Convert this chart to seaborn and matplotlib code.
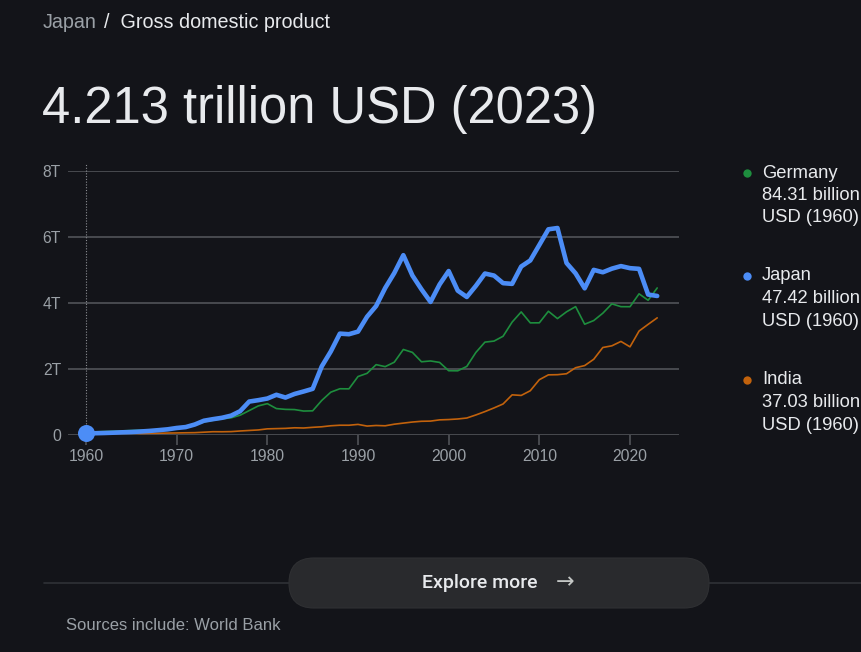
import numpy as np
import pandas as pd
import matplotlib
matplotlib.use("Agg")
import matplotlib.pyplot as plt
from matplotlib.patches import FancyBboxPatch
from matplotlib.lines import Line2D
import seaborn as sns

# ---------------- data (trillion USD) ----------------
years = list(range(1960, 2024))

japan = [0.0474, 0.0537, 0.0607, 0.0699, 0.0819, 0.0910, 0.1056, 0.1237, 0.1469, 0.1720,
         0.2126, 0.2403, 0.3183, 0.4323, 0.4799, 0.5215, 0.5867, 0.7214, 1.0133, 1.0554,
         1.1053, 1.2183, 1.1348, 1.2437, 1.3186, 1.3988, 2.0785, 2.5321, 3.0719, 3.0541,
         3.1328, 3.5843, 3.9088, 4.4549, 4.9070, 5.4492, 4.8332, 4.4147, 4.0325, 4.5621,
         4.9683, 4.3745, 4.1826, 4.5193, 4.8932, 4.8312, 4.6014, 4.5794, 5.1060, 5.2892,
         5.7591, 6.2331, 6.2722, 5.2121, 4.8965, 4.4449, 5.0037, 4.9309, 5.0408, 5.1179,
         5.0555, 5.0349, 4.2564, 4.2129]

germany = [0.0843, 0.0949, 0.1049, 0.1128, 0.1244, 0.1358, 0.1440, 0.1477, 0.1558, 0.1787,
           0.2159, 0.2493, 0.2997, 0.3986, 0.4456, 0.4905, 0.5195, 0.6000, 0.7400, 0.8814,
           0.9502, 0.8007, 0.7763, 0.7706, 0.7258, 0.7324, 1.0464, 1.2980, 1.4015, 1.3983,
           1.7716, 1.8686, 2.1319, 2.0713, 2.2058, 2.5918, 2.5039, 2.2187, 2.2437, 2.1998,
           1.9480, 1.9451, 2.0782, 2.5015, 2.8143, 2.8459, 2.9921, 3.4215, 3.7301, 3.3979,
           3.3996, 3.7496, 3.5273, 3.7331, 3.8899, 3.3570, 3.4679, 3.6903, 3.9744, 3.8889,
           3.8874, 4.2783, 4.0823, 4.4561]

india = [0.0370, 0.0392, 0.0422, 0.0484, 0.0565, 0.0590, 0.0459, 0.0500, 0.0531, 0.0584,
         0.0625, 0.0674, 0.0710, 0.0851, 0.0995, 0.0982, 0.1027, 0.1217, 0.1376, 0.1529,
         0.1862, 0.1935, 0.2008, 0.2185, 0.2120, 0.2326, 0.2489, 0.2799, 0.2962, 0.2960,
         0.3210, 0.2705, 0.2882, 0.2790, 0.3272, 0.3602, 0.3928, 0.4157, 0.4213, 0.4587,
         0.4684, 0.4854, 0.5149, 0.6075, 0.7091, 0.8203, 0.9402, 1.2167, 1.1990, 1.3412,
         1.6756, 1.8230, 1.8277, 1.8567, 2.0391, 2.1036, 2.2947, 2.6515, 2.7026, 2.8355,
         2.6718, 3.1503, 3.3532, 3.5499]

y_ticks = [0, 2, 4, 6, 8]
y_tick_labels = ["0", "2T", "4T", "6T", "8T"]
x_ticks = [1960, 1970, 1980, 1990, 2000, 2010, 2020]

legend_names = ["Germany", "Japan", "India"]
legend_values = ["84.31 billion", "47.42 billion", "37.03 billion"]
legend_sub = ["USD (1960)", "USD (1960)", "USD (1960)"]

breadcrumb_left = "Japan"
breadcrumb_right = "Gross domestic product"
headline = "4.213 trillion USD (2023)"
button_text = "Explore more"
source_text = "Sources include: World Bank"

# ---------------- style ----------------
BG = "#131419"
GRID = "#56595e"
TICK = "#9aa0a6"
TEXT = "#e8eaed"
C_JP = "#4c8df6"
C_DE = "#1e8e3e"
C_IN = "#c2620c"

sns.set_theme(style="dark")
plt.rcParams["font.family"] = ["Liberation Sans", "DejaVu Sans"]

W, H = 862, 652
fig = plt.figure(figsize=(W / 100, H / 100), dpi=100, facecolor=BG)

# chart axes (pixel geometry)
ax_left, ax_right, ax_top, ax_bottom = 68, 679, 171, 435
ax = fig.add_axes([ax_left / W, 1 - ax_bottom / H, (ax_right - ax_left) / W, (ax_bottom - ax_top) / H])
ax.set_facecolor(BG)

df = pd.DataFrame({"year": years * 3,
                   "gdp": germany + india + japan,
                   "country": ["Germany"] * len(years) + ["India"] * len(years) + ["Japan"] * len(years)})

sns.lineplot(data=df[df.country == "Germany"], x="year", y="gdp", color=C_DE, linewidth=1.2, ax=ax, zorder=3)
sns.lineplot(data=df[df.country == "India"], x="year", y="gdp", color=C_IN, linewidth=1.2, ax=ax, zorder=3)
sns.lineplot(data=df[df.country == "Japan"], x="year", y="gdp", color=C_JP, linewidth=3.3, ax=ax, zorder=4,
             solid_capstyle="round", solid_joinstyle="round")
for ln in ax.lines:
    ln.set_clip_on(False)

# highlighted point at 1960
ax.scatter([years[0]], [japan[0]], s=150, color=C_JP, zorder=6, clip_on=False, linewidths=0)
ax.axvline(years[0], ymin=0, ymax=(ax_bottom - 163) / (ax_bottom - ax_top), color="#8a8d92",
           linestyle=(0, (1, 1.5)), linewidth=0.8, zorder=2, clip_on=False)

x_per_px = 10 / ((630 - 86) / 6)
ax.set_xlim(1960 - (86 - ax_left) * x_per_px, 1960 + (ax_right - 86) * x_per_px)
ax.set_ylim(0, 8)
ax.set_xticks(x_ticks)
ax.set_xticklabels([str(t) for t in x_ticks])
ax.set_yticks(y_ticks)
ax.set_yticklabels(y_tick_labels)
ax.grid(axis="y", color=GRID, linewidth=1.1)
ax.grid(axis="x", visible=False)
ax.set_axisbelow(True)
for s in ax.spines.values():
    s.set_visible(False)
ax.tick_params(axis="y", length=0, pad=5, labelsize=11.3, labelcolor=TICK)
ax.tick_params(axis="x", length=7, width=1.1, color=GRID, direction="out", bottom=True,
               pad=3, labelsize=11.3, labelcolor=TICK)
ax.set_xlabel("")
ax.set_ylabel("")
ax.legend_ = None

# overlay axes in pixel coordinates for page elements
ov = fig.add_axes([0, 0, 1, 1], zorder=-1)
ov.set_xlim(0, W)
ov.set_ylim(H, 0)
ov.axis("off")
ov.patch.set_alpha(0)

# breadcrumb
t1 = ov.text(43, 28, breadcrumb_left, color=TICK, fontsize=14.2, va="baseline", ha="left")
fig.canvas.draw()
bb = t1.get_window_extent()
x_after = bb.x1 + 7
ov.text(x_after, 28, "/  " + breadcrumb_right, color=TEXT, fontsize=14.2, va="baseline", ha="left")

# headline
ov.text(42, 123, headline, color=TEXT, fontsize=36.5, va="baseline", ha="left")

# legend
legend_colors = [C_DE, C_JP, C_IN]
legend_y = [173, 276, 380]
for name, val, sub, col, y0 in zip(legend_names, legend_values, legend_sub, legend_colors, legend_y):
    ov.scatter([747], [y0], s=36, color=col, linewidths=0)
    ov.text(762, y0, name, color=TEXT, fontsize=13.2, va="center", ha="left")
    ov.text(762, y0 + 22.5, val, color=TEXT, fontsize=13.2, va="center", ha="left")
    ov.text(762, y0 + 45, sub, color=TEXT, fontsize=13.2, va="center", ha="left")

# separator + button
ov.add_line(Line2D([44, W], [583, 583], color="#2f3136", linewidth=1.2))
pill = FancyBboxPatch((289, 558), 420, 50, boxstyle="round,pad=0,rounding_size=25",
                      facecolor="#292a2d", edgecolor="#2f3033", linewidth=0.8, zorder=3)
ov.add_patch(pill)
ov.text(480, 583, button_text, color=TEXT, fontsize=14, va="center", ha="center",
        family=["Roboto", "DejaVu Sans"], fontweight="medium", zorder=4)
ov.text(565, 582, "\u2192", color="#c4c7c5", fontsize=16, va="center", ha="center",
        family=["DejaVu Sans"], zorder=4)

# source
ov.text(66, 625, source_text, color=TICK, fontsize=12, va="center", ha="left")

fig.savefig("out.png", dpi=100, facecolor=BG)
